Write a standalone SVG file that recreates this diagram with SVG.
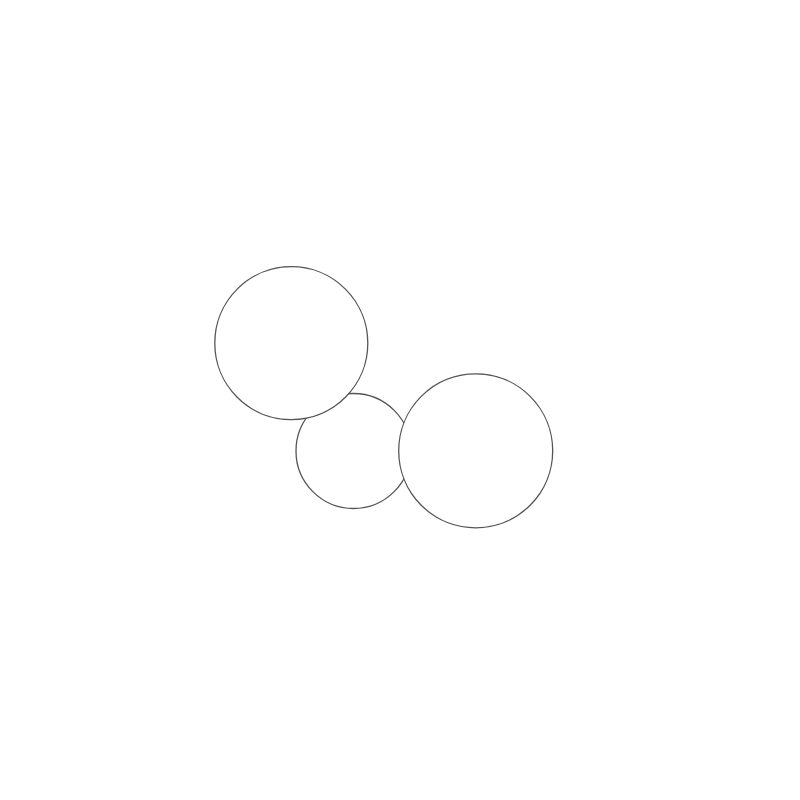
<svg xmlns="http://www.w3.org/2000/svg" width="800" height="800" viewBox="0 0 800 800">
<style>
.c{fill:#fff;stroke:#555;stroke-width:1.3}
</style>
<rect width="800" height="800" fill="#fff"/>
<g id="circle-small"><circle class="c" cx="353.5" cy="451" r="57.5"/></g>
<g id="circle-left"><circle class="c" cx="291.3" cy="343.2" r="76.5"/></g>
<g id="circle-right"><circle class="c" cx="475.7" cy="450.8" r="77"/></g>
<g id="connectors"></g>
</svg>
